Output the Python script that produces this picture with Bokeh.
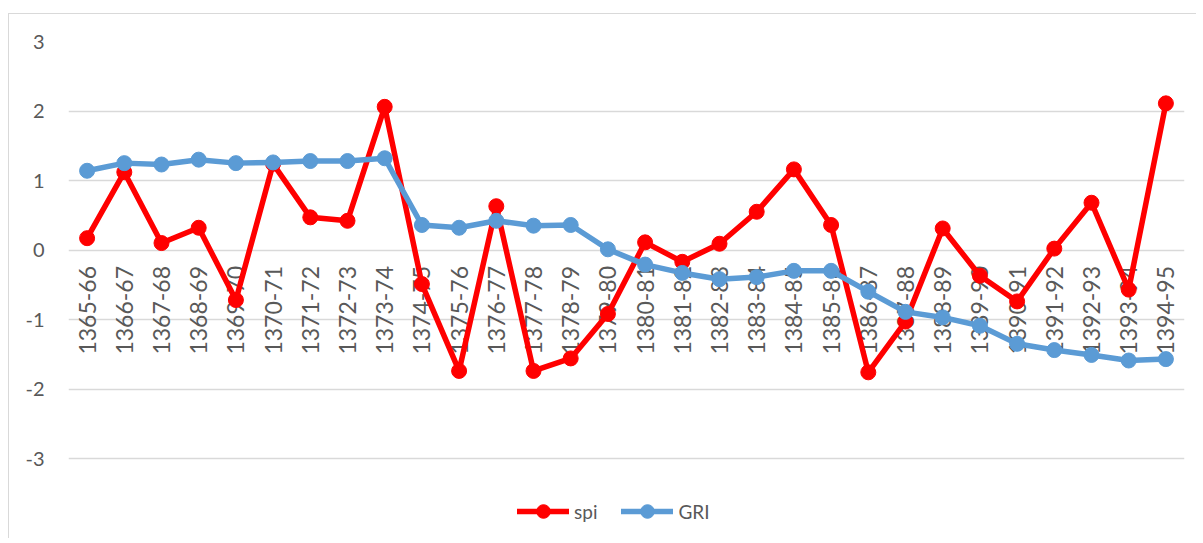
import math
from bokeh.plotting import figure
from bokeh.models import (Range1d, FactorRange, FixedTicker, Legend, LegendItem,
                          ColumnDataSource)
from bokeh.core.properties import value
from bokeh.embed import file_html
from bokeh.resources import INLINE

periods = ["1365-66", "1366-67", "1367-68", "1368-69", "1369-70", "1370-71",
           "1371-72", "1372-73", "1373-74", "1374-75", "1375-76", "1376-77",
           "1377-78", "1378-79", "1379-80", "1380-81", "1381-82", "1382-83",
           "1383-84", "1384-85", "1385-86", "1386-87", "1387-88", "1388-89",
           "1389-90", "1390-91", "1391-92", "1392-93", "1393-94", "1394-95"]

spi = [0.17, 1.12, 0.10, 0.32, -0.72, 1.24, 0.47, 0.42, 2.06, -0.49,
       -1.74, 0.63, -1.74, -1.56, -0.92, 0.11, -0.17, 0.09, 0.55, 1.16,
       0.36, -1.76, -1.03, 0.31, -0.37, -0.74, 0.02, 0.68, -0.57, 2.11]

gri = [1.14, 1.25, 1.23, 1.30, 1.25, 1.26, 1.28, 1.28, 1.32, 0.36,
       0.32, 0.42, 0.35, 0.36, 0.01, -0.21, -0.33, -0.42, -0.39, -0.30,
       -0.30, -0.60, -0.89, -0.97, -1.09, -1.35, -1.44, -1.51, -1.59, -1.57]

y_ticks = [-3, -2, -1, 0, 1, 2, 3]
y_tick_labels = {t: str(t) for t in y_ticks}

FONT = "Lato"
GREY = "#595959"
RED = "#FF0000"
BLUE = "#5B9BD5"

# layout constants (pixels)
W, H = 1188, 525
LEFT, RIGHT, TOP, BOTTOM = 59, 13, 27, 8
PX_PER_UNIT = 69.5
frame_h = H - TOP - BOTTOM
y_lo = 3 - frame_h / PX_PER_UNIT

src = ColumnDataSource(dict(x=periods, spi=spi, gri=gri, zero=[0] * len(periods)))

p = figure(width=W, height=H, output_backend="svg", toolbar_location=None,
           x_range=FactorRange(*periods, range_padding=0),
           y_range=Range1d(y_lo, 3), x_axis_location=None,
           min_border_left=LEFT, min_border_right=RIGHT,
           min_border_top=TOP, min_border_bottom=BOTTOM,
           margin=(13, 0, 0, 8),
           styles={"border-left": "1px solid #d9d9d9",
                   "border-top": "1px solid #d9d9d9"})
p.outline_line_color = None
p.background_fill_color = "white"
p.border_fill_color = "white"

p.xgrid.visible = False
p.ygrid.ticker = FixedTicker(ticks=y_ticks)
p.ygrid.grid_line_color = "#d9d9d9"
p.ygrid.grid_line_width = 1.5

yax = p.yaxis[0]
yax.ticker = FixedTicker(ticks=y_ticks)
yax.major_label_overrides = y_tick_labels
yax.axis_line_color = None
yax.major_tick_line_color = None
yax.minor_tick_line_color = None
yax.major_tick_out = 0
yax.major_tick_in = 0
yax.major_label_standoff = 24
yax.major_label_text_font = FONT
yax.major_label_text_font_size = "20px"
yax.major_label_text_color = GREY

# category labels hanging below zero line
p.text(x="x", y="zero", text="x", source=src, angle=math.pi / 2,
       text_align="right", text_baseline="middle", y_offset=16,
       text_font=value(FONT), text_font_size="23px", text_color=GREY)

l1 = p.line("x", "spi", source=src, line_color=RED, line_width=5.5,
            line_join="round", line_cap="round")
s1 = p.scatter("x", "spi", source=src, size=15, fill_color=RED, line_color=RED)
l2 = p.line("x", "gri", source=src, line_color=BLUE, line_width=5.5,
            line_join="round", line_cap="round")
s2 = p.scatter("x", "gri", source=src, size=15, fill_color=BLUE, line_color=BLUE)

legend = Legend(items=[LegendItem(label="spi", renderers=[l1, s1]),
                       LegendItem(label="GRI", renderers=[l2, s2])],
                orientation="horizontal", location=(449, 3),
                glyph_width=52, glyph_height=34, label_height=34,
                label_standoff=5, spacing=24, padding=0, margin=0,
                border_line_color=None, background_fill_alpha=0,
                label_text_font=FONT, label_text_font_size="19px",
                label_text_color=GREY)
p.add_layout(legend, "center")

open("out.html", "w").write(file_html(p, INLINE))
